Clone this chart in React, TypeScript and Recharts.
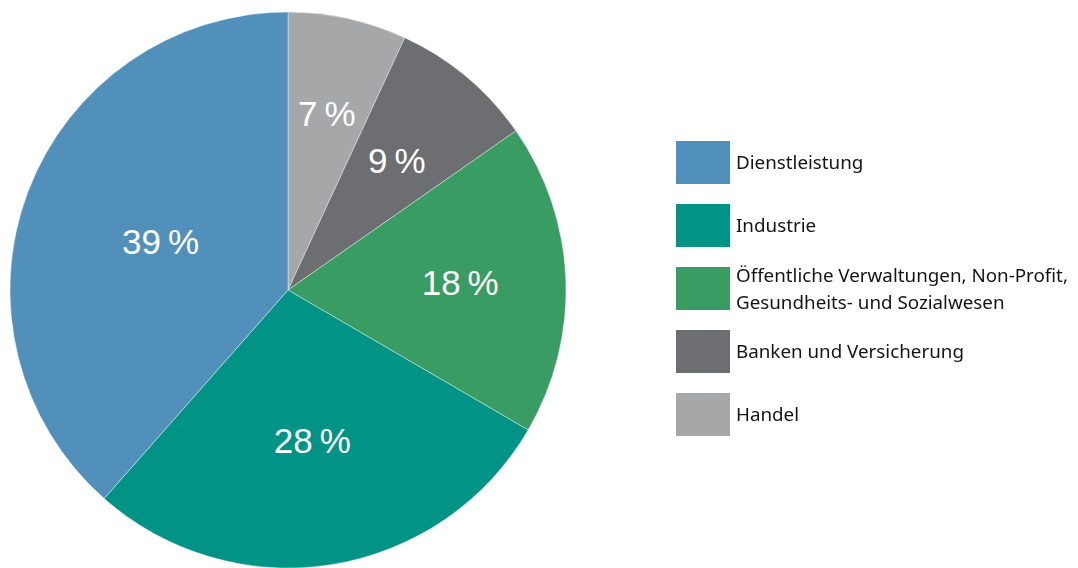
import React from 'react';
import { PieChart, Pie, Cell } from 'recharts';

// slice order: clockwise from 12 o'clock
const sectors = ['Handel', 'Banken und Versicherung', 'Öffentliche Verwaltungen, Non-Profit, Gesundheits- und Sozialwesen', 'Industrie', 'Dienstleistung'];
const shares = [6.9, 8.4, 18.1, 28.1, 38.5];
const shareLabels = ['7\u2009%', '9\u2009%', '18\u2009%', '28\u2009%', '39\u2009%'];
const colors = ['#a6a7a9', '#6d6e71', '#399c62', '#009386', '#5190bb'];

// label distance from centre, as a fraction of the radius
const labelRadius = [0.65, 0.61, 0.62, 0.55, 0.49];

const data = sectors.map((name, i) => ({ name, value: shares[i], label: shareLabels[i] }));

const RAD = Math.PI / 180;

function SliceLabel(props: any) {
  const { cx, cy, midAngle, outerRadius, index } = props;
  const r = outerRadius * labelRadius[index];
  const x = cx + r * Math.cos(-midAngle * RAD);
  const y = cy + r * Math.sin(-midAngle * RAD);
  return (
    <text x={x} y={y} fill="#fff" textAnchor="middle" dominantBaseline="central"
      style={{ fontFamily: '"Liberation Sans", Arial, sans-serif', fontSize: 35 }}>
      {data[index].label}
    </text>
  );
}

// legend lists the sectors top-down in reverse slice order
function LegendList() {
  const items = sectors.map((name, i) => ({ name, color: colors[i] })).reverse();
  return (
    <div style={{ position: 'absolute', left: 676, top: 141, display: 'flex', flexDirection: 'column', gap: 20 }}>
      {items.map((it) => (
        <div key={it.name} style={{ display: 'flex', alignItems: 'center', height: 43 }}>
          <div style={{ width: 54, height: 43, background: it.color, flexShrink: 0 }} />
          <span style={{ marginLeft: 6, width: 345, fontSize: 18.8, lineHeight: '27px', color: '#141414', fontFamily: '"Noto Sans", sans-serif' }}>
            {it.name}
          </span>
        </div>
      ))}
    </div>
  );
}

export default function App() {
  return (
    <div style={{ position: 'fixed', left: 0, top: 0, width: 1078, height: 568, background: '#fff' }}>
      <PieChart width={1078} height={568} margin={{ top: 0, right: 0, bottom: 0, left: 0 }}>
        <Pie data={data} dataKey="value" nameKey="name" cx={288} cy={290} outerRadius={278}
          startAngle={90} endAngle={-270} stroke="#ffffff" strokeWidth={0.4}
          label={SliceLabel} labelLine={false} isAnimationActive={false}>
          {data.map((d, i) => <Cell key={d.name} fill={colors[i]} />)}
        </Pie>
      </PieChart>
      <LegendList />
    </div>
  );
}
